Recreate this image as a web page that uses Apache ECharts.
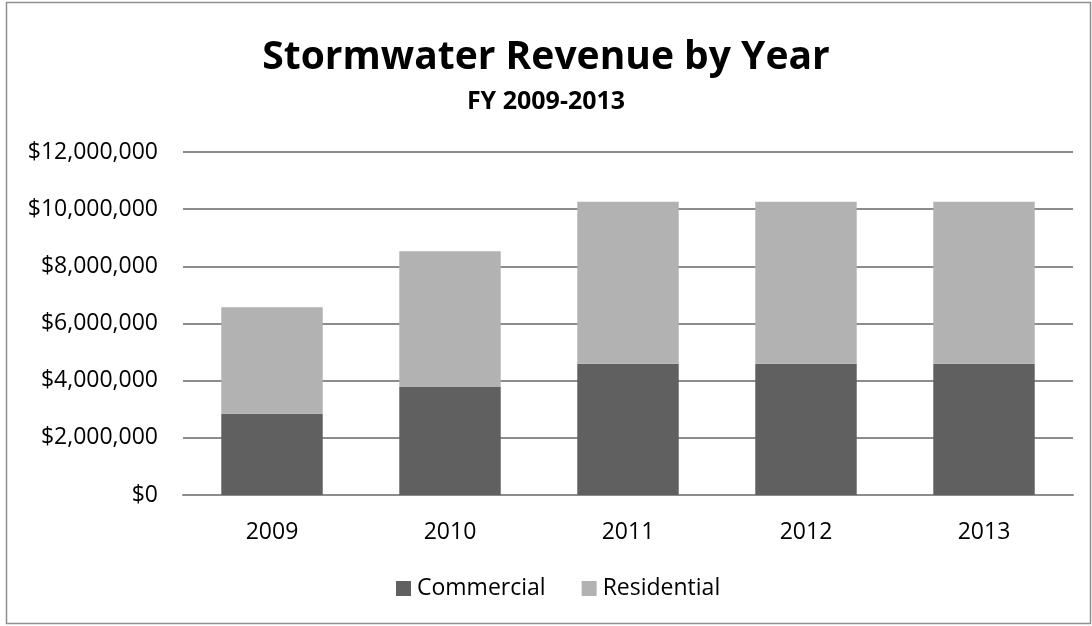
<!DOCTYPE html>
<html>
<head>
<meta charset="utf-8">
<script src="https://cdn.jsdelivr.net/npm/echarts@6/dist/echarts.min.js"></script>
<style>
html,body{margin:0;padding:0;background:#fff;}
#chart{width:1092px;height:626px;}
</style>
</head>
<body>
<div id="chart"></div>
<script>
const categories = ['2009', '2010', '2011', '2012', '2013'];
const commercial = [2840000, 3780000, 4590000, 4590000, 4590000];
const residential = [3730000, 4750000, 5670000, 5670000, 5670000];
const yTicks = { min: 0, max: 12000000, interval: 2000000 };

const chart = echarts.init(document.getElementById('chart'), null, { renderer: 'canvas' });
const font = 'Open Sans';
function money(v) {
  return '$' + v.toString().replace(/\B(?=(\d{3})+(?!\d))/g, ',');
}
chart.setOption({
  animation: false,
  backgroundColor: '#fff',
  title: {
    text: 'Stormwater Revenue by Year',
    subtext: 'FY 2009-2013',
    left: 'center',
    top: 33,
    itemGap: 12,
    textStyle: { fontFamily: font, fontWeight: 'bold', fontSize: 39, color: '#000' },
    subtextStyle: { fontFamily: font, fontWeight: 'bold', fontSize: 25, color: '#000' }
  },
  legend: {
    data: ['Commercial', 'Residential'],
    bottom: 21,
    left: 391,
    itemWidth: 15,
    itemHeight: 15,
    itemGap: 36,
    icon: 'rect',
    textStyle: { fontFamily: font, fontSize: 23, color: '#000', padding: [0, 0, 0, 1] }
  },
  grid: { left: 183, right: 19, top: 152, bottom: 131, containLabel: false },
  xAxis: {
    type: 'category',
    data: categories,
    axisLine: { show: true, lineStyle: { color: '#8c8c8c', width: 2 } },
    axisTick: { show: false },
    axisLabel: { fontFamily: font, fontSize: 23, color: '#000', margin: 26 }
  },
  yAxis: {
    type: 'value',
    min: yTicks.min, max: yTicks.max, interval: yTicks.interval,
    axisLine: { show: false },
    axisTick: { show: false },
    splitLine: { lineStyle: { color: '#8c8c8c', width: 2 } },
    axisLabel: { fontFamily: font, fontSize: 23, color: '#000', margin: 25, formatter: money }
  },
  series: [
    { name: 'Commercial', type: 'bar', stack: 'total', data: commercial, barWidth: '57%',
      itemStyle: { color: '#606060' } },
    { name: 'Residential', type: 'bar', stack: 'total', data: residential, barWidth: '57%',
      itemStyle: { color: '#b2b2b2' } }
  ],
  graphic: [{
    type: 'rect', silent: true, z: 100,
    shape: { x: 6.5, y: 2.5, width: 1084, height: 621 },
    style: { fill: null, stroke: '#8f8f8f', lineWidth: 1.5 }
  }]
});
</script>
</body>
</html>
